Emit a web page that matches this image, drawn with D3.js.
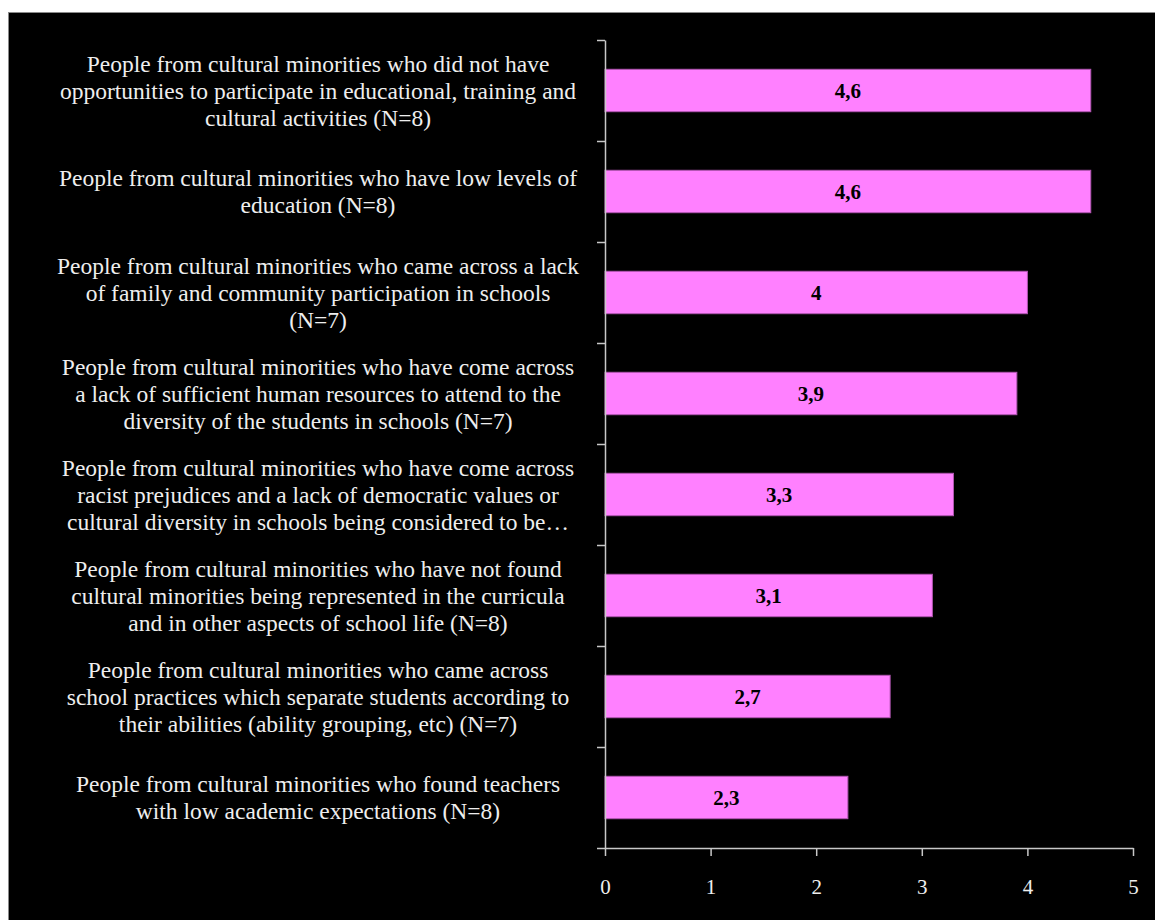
<!DOCTYPE html>
<html>
<head>
<meta charset="utf-8">
<script src="https://cdn.jsdelivr.net/npm/d3@7"></script>
<style>
  html, body { margin: 0; padding: 0; background: #fff; }
  svg { display: block; }
</style>
</head>
<body>
<svg id="chart" width="1155" height="920"></svg>
<script>
// Category labels, one array of lines per bar (top to bottom)
const categories = [
  ["People from cultural minorities who did not have",
   "opportunities to participate in educational, training and",
   "cultural activities (N=8)"],
  ["People from cultural minorities who have low levels of",
   "education (N=8)"],
  ["People from cultural minorities who came across a lack",
   "of family and community participation in schools",
   "(N=7)"],
  ["People from cultural minorities who have come across",
   "a lack of sufficient human resources to attend to the",
   "diversity of the students in schools (N=7)"],
  ["People from cultural minorities who have come across",
   "racist prejudices and a lack of democratic values or",
   "cultural diversity in schools being considered to be\u2026"],
  ["People from cultural minorities who have not found",
   "cultural minorities being represented in the curricula",
   "and in other aspects of school life (N=8)"],
  ["People from cultural minorities who came across",
   "school practices which separate students according to",
   "their abilities (ability grouping, etc) (N=7)"],
  ["People from cultural minorities who found teachers",
   "with low academic expectations (N=8)"]
];
const values = [4.6, 4.6, 4, 3.9, 3.3, 3.1, 2.7, 2.3];
const xTicks = [0, 1, 2, 3, 4, 5];

const svg = d3.select("#chart");
const W = 1155, H = 920;

// dark panel
svg.append("rect")
  .attr("x", 8.5).attr("y", 12.5)
  .attr("width", W).attr("height", H)
  .attr("fill", "#000").attr("stroke", "#8a8a8a").attr("stroke-width", 1);

const plot = { left: 605, right: 1133, top: 40, bottom: 848 };
const idx = d3.range(categories.length);

const x = d3.scaleLinear().domain([0, 5]).range([plot.left, plot.right]);
const y = d3.scaleBand().domain(idx).range([plot.top, plot.bottom])
  .paddingInner(0.58).paddingOuter(0.29);
const yEdge = d3.scaleLinear().domain([0, categories.length]).range([plot.top, plot.bottom]);

const serif = "'Liberation Serif', 'Times New Roman', serif";
const axisColor = "#c8c8c8";

// bars
svg.append("g").selectAll("rect").data(idx).join("rect")
  .attr("x", x(0))
  .attr("y", i => y(i))
  .attr("width", i => x(values[i]) - x(0))
  .attr("height", y.bandwidth())
  .attr("fill", "#ff80ff")
  .attr("stroke", "#b255b2")
  .attr("stroke-width", 1);

// value labels
svg.append("g").selectAll("text").data(idx).join("text")
  .attr("x", i => (x(0) + x(values[i])) / 2)
  .attr("y", i => y(i) + y.bandwidth() / 2)
  .attr("dy", "0.35em")
  .attr("text-anchor", "middle")
  .attr("font-family", serif)
  .attr("font-weight", "bold")
  .attr("font-size", 21)
  .attr("fill", "#000")
  .text(i => String(values[i]).replace(".", ","));

// y axis with ticks at category boundaries
const yAxis = svg.append("g")
  .attr("transform", `translate(${plot.left},0)`)
  .call(d3.axisLeft(yEdge).tickValues(d3.range(categories.length + 1)).tickFormat("").tickSize(8).tickSizeOuter(0));
yAxis.select(".domain").attr("stroke", axisColor).attr("stroke-width", 1.5);
yAxis.selectAll(".tick line").attr("stroke", axisColor).attr("stroke-width", 1.5);

// x axis
const xAxis = svg.append("g")
  .attr("transform", `translate(0,${plot.bottom})`)
  .call(d3.axisBottom(x).tickValues(xTicks).tickFormat(d3.format("d"))
    .tickSize(8).tickSizeOuter(0).tickPadding(23));
xAxis.select(".domain").attr("stroke", axisColor).attr("stroke-width", 1.5);
xAxis.selectAll(".tick line").attr("stroke", axisColor).attr("stroke-width", 1.5);
xAxis.selectAll(".tick text")
  .attr("font-family", serif).attr("font-size", 21).attr("fill", "#eee");

// category labels
const lineH = 27;
const labels = svg.append("g").selectAll("text").data(idx).join("text")
  .attr("text-anchor", "middle")
  .attr("font-family", serif)
  .attr("font-size", 23.5)
  .attr("fill", "#eeeeee")
  .attr("transform", i => `translate(318,${y(i) + y.bandwidth() / 2})`);
labels.each(function (i) {
  const lines = categories[i];
  const off = -(lines.length - 1) / 2 * lineH;
  d3.select(this).selectAll("tspan").data(lines).join("tspan")
    .attr("x", 0)
    .attr("y", (d, k) => off + k * lineH)
    .attr("dy", "0.35em")
    .text(d => d);
});
</script>
</body>
</html>
